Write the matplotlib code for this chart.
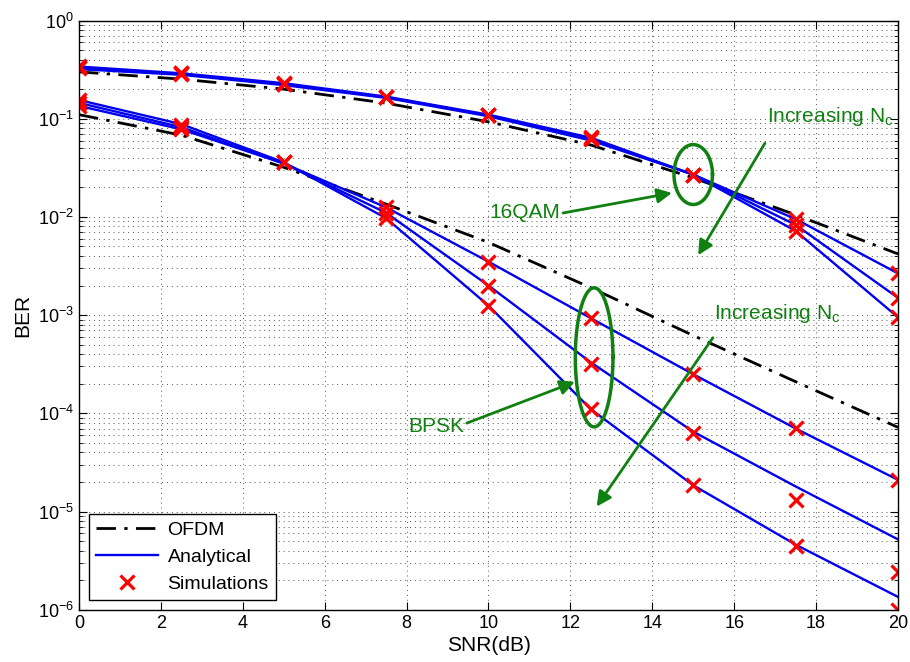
import numpy as np
import matplotlib
matplotlib.use('Agg')
import matplotlib.pyplot as plt
from matplotlib.ticker import NullFormatter

plt.rcParams['font.family'] = ['Liberation Sans', 'DejaVu Sans']
plt.rcParams['font.size'] = 13
plt.rcParams['mathtext.fontset'] = 'custom'
plt.rcParams['mathtext.rm'] = 'Liberation Sans'
plt.rcParams['mathtext.it'] = 'Liberation Sans'

# SNR grid (dB)
snr = [0, 2.5, 5, 7.5, 10, 12.5, 15, 17.5, 20]

# OFDM reference curves
ofdm_bpsk = [0.11, 0.068, 0.032, 0.0135, 5.5e-3, 1.9e-3, 6.2e-4, 2.1e-4, 7.2e-5]
ofdm_16qam = [0.30, 0.253, 0.20, 0.144, 0.093, 0.054, 0.025, 0.0105, 4.2e-3]

# Analytical curves (three Nc values each)
ana_bpsk = [
    [0.135, 0.078, 0.035, 0.0125, 3.5e-3, 9.3e-4, 2.5e-4, 7.0e-5, 2.1e-5],
    [0.145, 0.082, 0.035, 0.011, 2.0e-3, 3.3e-4, 6.5e-5, 1.8e-5, 5.2e-6],
    [0.155, 0.088, 0.036, 0.0097, 1.25e-3, 1.1e-4, 1.85e-5, 4.6e-6, 1.35e-6],
]
ana_16qam = [
    [0.32, 0.28, 0.22, 0.163, 0.106, 0.060, 0.027, 0.0095, 2.66e-3],
    [0.33, 0.285, 0.225, 0.166, 0.108, 0.062, 0.027, 0.0083, 1.5e-3],
    [0.34, 0.29, 0.23, 0.168, 0.110, 0.064, 0.027, 0.0072, 9.5e-4],
]

# Simulation points
sim_bpsk = [
    [0.135, 0.078, 0.036, 0.0125, 3.5e-3, 9.3e-4, 2.5e-4, 7.1e-5, 2.1e-5],
    [0.145, 0.082, 0.036, 0.011, 2.0e-3, 3.2e-4, 6.3e-5, 1.3e-5, 2.4e-6],
    [0.155, 0.086, 0.036, 0.0097, 1.24e-3, 1.1e-4, 1.85e-5, 4.5e-6, 1.0e-6],
]
sim_16qam = [
    [0.33, 0.285, 0.225, 0.165, 0.108, 0.063, 0.027, 0.0095, 2.66e-3],
    [0.34, 0.29, 0.228, 0.167, 0.11, 0.062, 0.027, 0.0083, 1.48e-3],
    [0.345, 0.29, 0.23, 0.168, 0.11, 0.065, 0.027, 0.0072, 9.5e-4],
]

green = '#108010'
dashdot = (0, (7, 3, 1.2, 3))

fig = plt.figure(figsize=(9.1, 6.62), dpi=100)
ax = fig.add_axes([0.0868, 0.079, 0.90, 0.890])

ax.semilogy(snr, ofdm_bpsk, color='k', ls=dashdot, lw=2, label='OFDM')
ax.semilogy(snr, ofdm_16qam, color='k', ls=dashdot, lw=2)
for i, c in enumerate(ana_bpsk + ana_16qam):
    ax.semilogy(snr, c, color='#0000ee', lw=1.7, label='Analytical' if i == 0 else None)
for i, c in enumerate(sim_bpsk + sim_16qam):
    ax.semilogy(snr, c, ls='none', marker='x', color='red', ms=10, mew=2.3,
                label='Simulations' if i == 0 else None)

# ellipses around groups
t = np.linspace(0, 2 * np.pi, 200)
ax.plot(15 + 0.47 * np.cos(t), 10 ** (np.log10(0.027) + 0.305 * np.sin(t)), color=green, lw=2.5)
ax.plot(12.58 + 0.46 * np.cos(t), 10 ** (-3.43 + 0.708 * np.sin(t)), color=green, lw=2.5)

arrow = dict(arrowstyle='-|>', color=green, lw=2, mutation_scale=22, shrinkA=0, shrinkB=0)
ax.annotate('', xy=(14.48, 10 ** -1.756), xytext=(11.82, 10 ** -1.96), arrowprops=arrow)
ax.text(11.75, 10 ** -1.95, '16QAM', color=green, ha='right', va='center', fontsize=15)
ax.annotate('', xy=(12.11, 10 ** -3.68), xytext=(9.47, 10 ** -4.1), arrowprops=arrow)
ax.text(9.4, 10 ** -4.13, 'BPSK', color=green, ha='right', va='center', fontsize=15)
ax.annotate('', xy=(15.12, 10 ** -2.39), xytext=(16.75, 10 ** -1.25), arrowprops=arrow)
ax.text(16.8, 10 ** -0.98, r'Increasing N$_\mathregular{c}$', color=green, ha='left', va='center', fontsize=15)
ax.annotate('', xy=(12.64, 10 ** -4.95), xytext=(15.48, 10 ** -3.23), arrowprops=arrow)
ax.text(15.5, 10 ** -2.98, r'Increasing N$_\mathregular{c}$', color=green, ha='left', va='center', fontsize=15)

ax.set_xlim(0, 20)
ax.set_ylim(1e-6, 1)
ax.set_xticks(range(0, 21, 2))
ax.yaxis.set_minor_formatter(NullFormatter())
ax.set_xlabel('SNR(dB)', labelpad=3, fontsize=15)
ax.set_ylabel('BER', labelpad=4, fontsize=15)
ax.grid(True, which='major', ls=(0, (1, 4)), color='#555555', lw=0.7)
ax.grid(True, which='minor', axis='y', ls=(0, (1, 4)), color='#555555', lw=0.7)
ax.tick_params(which='both', direction='in', top=True, right=True)
ax.tick_params(which='major', length=6)
ax.tick_params(which='minor', length=3)
for s in ax.spines.values():
    s.set_linewidth(1.0)

leg = ax.legend(loc='lower left', fancybox=False, edgecolor='k', framealpha=1,
                borderpad=0.35, labelspacing=0.5, handlelength=3.2, handletextpad=0.5,
                borderaxespad=0.5, fontsize=14)
leg.get_frame().set_linewidth(1.0)

fig.savefig('out.png', dpi=100)
